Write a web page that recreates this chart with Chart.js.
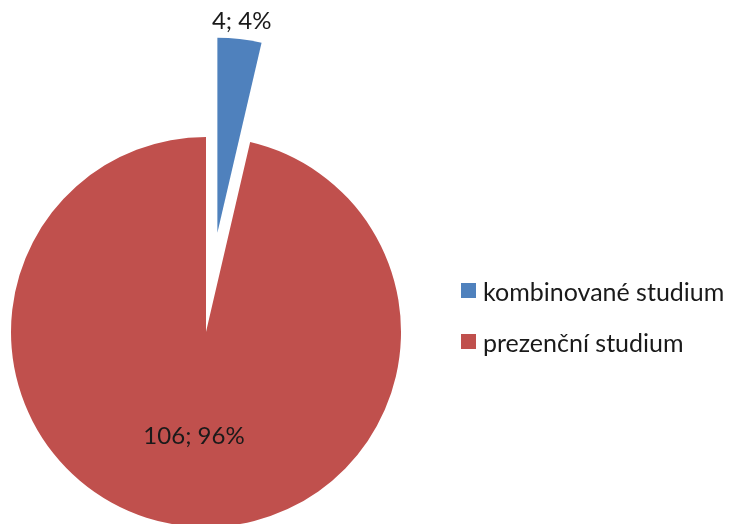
<!DOCTYPE html>
<html>
<head>
<meta charset="utf-8">
<script src="https://cdn.jsdelivr.net/npm/chart.js@4/dist/chart.umd.min.js"></script>
<style>
  html, body { margin: 0; padding: 0; background: #fff; }
  #wrap { position: relative; width: 729px; height: 524px; overflow: hidden; }
  #c { position: absolute; left: 0; top: 0; }
  #legend { position: absolute; left: 461px; top: 265px; font-family: Lato, "Open Sans", sans-serif; font-size: 25px; color: #1a1a1a; }
  .row { height: 51px; display: flex; align-items: center; white-space: nowrap; }
  .sw { width: 15px; height: 15px; margin-right: 7px; flex: none; }
</style>
</head>
<body>
<div id="wrap">
  <canvas id="c" width="729" height="524"></canvas>
  <div id="legend"></div>
</div>
<script>
const categories = ["kombinované studium", "prezenční studium"];
const values = [4, 106];
const colors = ["#4F81BD", "#C0504D"];

const total = values.reduce((a, b) => a + b, 0);

// Moves exploded slices outward along their bisector (whole slice, no shrink)
const explodeSlices = {
  id: 'explodeSlices',
  afterUpdate(chart, args, opts) {
    const meta = chart.getDatasetMeta(0);
    meta.data.forEach((arc, i) => {
      const d = opts.distance[i] || 0;
      if (!d) return;
      const mid = (arc.startAngle + arc.endAngle) / 2;
      arc.x += Math.cos(mid) * d;
      arc.y += Math.sin(mid) * d;
    });
  }
};

const sliceLabels = {
  id: 'sliceLabels',
  afterDatasetsDraw(chart, args, opts) {
    const ctx = chart.ctx;
    const meta = chart.getDatasetMeta(0);
    const data = chart.data.datasets[0].data;
    ctx.save();
    ctx.font = opts.font;
    ctx.fillStyle = opts.color;
    ctx.textAlign = 'center';
    ctx.textBaseline = 'middle';
    meta.data.forEach((arc, i) => {
      const mid = (arc.startAngle + arc.endAngle) / 2;
      const d = opts.radial[i] * arc.outerRadius;
      const x = arc.x + Math.cos(mid) * d;
      const y = arc.y + Math.sin(mid) * d;
      const pct = Math.round(data[i] / total * 100);
      ctx.fillText(data[i] + '; ' + pct + '%', x, y);
    });
    ctx.restore();
  }
};

new Chart(document.getElementById('c'), {
  type: 'pie',
  data: {
    labels: categories,
    datasets: [{
      data: values,
      backgroundColor: colors,
      borderWidth: 0,
      clip: false
    }]
  },
  options: {
    responsive: false,
    animation: false,
    radius: 195,
    layout: { padding: { left: 0, right: 317, top: 140, bottom: 0 } },
    plugins: {
      legend: { display: false },
      tooltip: { enabled: false },
      explodeSlices: { distance: [100, 0] },
      sliceLabels: { font: '24px Lato, "Open Sans", sans-serif', color: '#1a1a1a', radial: [1.09, 0.54] }
    }
  },
  plugins: [explodeSlices, sliceLabels]
});

const lg = document.getElementById('legend');
categories.forEach((name, i) => {
  const row = document.createElement('div');
  row.className = 'row';
  const sw = document.createElement('span');
  sw.className = 'sw';
  sw.style.background = colors[i];
  const t = document.createElement('span');
  t.textContent = name;
  row.appendChild(sw);
  row.appendChild(t);
  lg.appendChild(row);
});
</script>
</body>
</html>
